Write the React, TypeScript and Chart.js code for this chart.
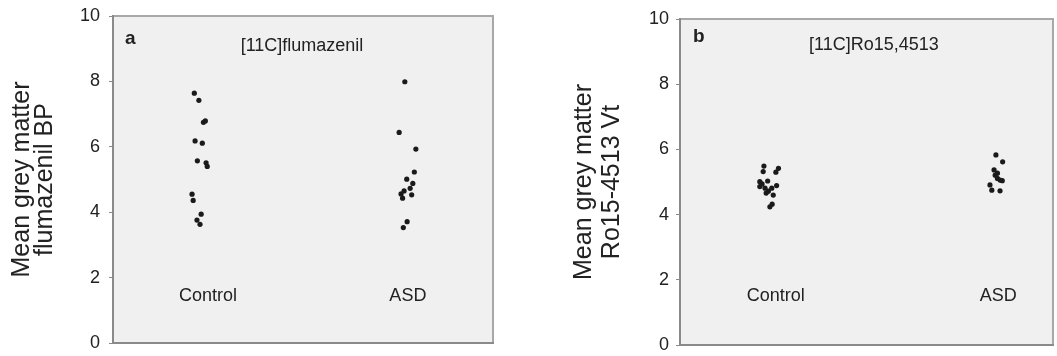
import React, { useEffect, useRef } from "react";
import { Chart, registerables } from "chart.js";

Chart.register(...registerables);

// ---------- data ----------
const categories = ["Control", "ASD"];
const yTickValues = [0, 2, 4, 6, 8, 10];

// Panel a: [11C]flumazenil BP
const flumazenilControl = [7.64, 7.42, 6.79, 6.75, 6.18, 6.11, 5.57, 5.51, 5.4, 4.55, 4.36, 3.94, 3.76, 3.63];
const flumazenilControlJitter = [2.14, 2.26, 2.43, 2.38, 2.16, 2.35, 2.22, 2.45, 2.48, 2.08, 2.11, 2.32, 2.21, 2.29];
const flumazenilASD = [7.99, 6.44, 5.93, 5.23, 5.01, 4.88, 4.73, 4.65, 4.53, 4.56, 4.43, 3.71, 3.53];
const flumazenilASDJitter = [7.68, 7.53, 7.97, 7.93, 7.73, 7.89, 7.82, 7.66, 7.86, 7.58, 7.62, 7.74, 7.64];
const flumazenilCategoryX = [2.5, 7.76];

// Panel b: [11C]Ro15,4513 Vt
const ro15Control = [5.49, 5.32, 5.42, 5.3, 5.01, 5.03, 4.86, 4.89, 4.81, 4.81, 4.72, 4.6, 4.32, 4.24, 4.94, 4.66];
const ro15ControlJitter = [2.25, 2.23, 2.64, 2.57, 2.14, 2.35, 2.14, 2.59, 2.28, 2.46, 2.37, 2.5, 2.47, 2.41, 2.2, 2.31];
const ro15ASD = [5.83, 5.62, 5.37, 5.27, 5.21, 5.11, 5.06, 5.04, 4.91, 4.75, 4.73];
const ro15ASDJitter = [8.47, 8.65, 8.42, 8.51, 8.45, 8.51, 8.58, 8.64, 8.31, 8.36, 8.58];
const ro15CategoryX = [2.57, 8.53];

const FONT = "'Liberation Sans', Arial, sans-serif";

type PanelProps = {
  left: number;
  width: number;
  control: number[];
  controlX: number[];
  asd: number[];
  asdX: number[];
  catX: number[];
  catY: number;
  title: string;
  letter: string;
  yTitle: string[];
  yTitleLineHeight: number;
  yTitlePad: number;
  axisWidth: number;
  padRight: number;
  padTop: number;
  padBottom: number;
  tickPad: number;
  titleDx: number;
  titleDy: number;
  letterDx: number;
  letterDy: number;
};

const framePlugin = {
  id: "frame",
  beforeDraw(chart: any) {
    const { ctx, chartArea: a } = chart;
    ctx.save();
    ctx.fillStyle = "#f0f0f0";
    ctx.fillRect(a.left, a.top, a.right - a.left, a.bottom - a.top);
    ctx.restore();
  },
  afterDraw(chart: any, _args: any, opts: any) {
    const { ctx, chartArea: a, scales } = chart;
    ctx.save();
    ctx.lineWidth = 2;
    ctx.strokeStyle = "#a8a8a8";
    ctx.beginPath();
    ctx.moveTo(a.left, a.top);
    ctx.lineTo(a.right, a.top);
    ctx.lineTo(a.right, a.bottom);
    ctx.stroke();
    ctx.strokeStyle = "#8a8a8a";
    ctx.beginPath();
    ctx.moveTo(a.left, a.top - 1);
    ctx.lineTo(a.left, a.bottom);
    ctx.lineTo(a.right + 1, a.bottom);
    ctx.stroke();

    ctx.fillStyle = "#222";
    ctx.textBaseline = "middle";
    ctx.textAlign = "center";
    ctx.font = `18px ${FONT}`;
    ctx.fillText(opts.title, a.left + opts.titleDx, a.top + opts.titleDy);
    opts.categories.forEach((c: string, i: number) => {
      ctx.fillText(c, scales.x.getPixelForValue(opts.catX[i]), scales.y.getPixelForValue(opts.catY));
    });
    ctx.textAlign = "left";
    ctx.font = `bold 19px ${FONT}`;
    ctx.fillText(opts.letter, a.left + opts.letterDx, a.top + opts.letterDy);
    ctx.restore();
  },
};

function Panel(p: PanelProps) {
  const ref = useRef<HTMLCanvasElement>(null);
  useEffect(() => {
    if (!ref.current) return;
    const pointStyle = { pointRadius: 2.6, pointBackgroundColor: "#1a1a1a", pointBorderWidth: 0, showLine: false };
    const chart = new Chart(ref.current, {
      type: "scatter",
      data: {
        datasets: [
          { label: categories[0], data: p.control.map((v, i) => ({ x: p.controlX[i], y: v })), ...pointStyle },
          { label: categories[1], data: p.asd.map((v, i) => ({ x: p.asdX[i], y: v })), ...pointStyle },
        ],
      },
      options: {
        animation: false,
        responsive: false,
        devicePixelRatio: 1,
        layout: { padding: { left: 0, right: p.padRight, top: p.padTop, bottom: p.padBottom } },
        plugins: {
          legend: { display: false },
          tooltip: { enabled: false },
          frame: {
            title: p.title,
            letter: p.letter,
            categories,
            catX: p.catX,
            catY: p.catY,
            titleDx: p.titleDx,
            titleDy: p.titleDy,
            letterDx: p.letterDx,
            letterDy: p.letterDy,
          },
        } as any,
        scales: {
          x: { type: "linear", min: 0, max: 10, display: false },
          y: {
            type: "linear",
            min: 0,
            max: 10,
            afterBuildTicks: (s: any) => {
              s.ticks = yTickValues.map((v) => ({ value: v }));
            },
            afterFit: (s: any) => {
              s.width = p.axisWidth;
              s.paddingTop = 0;
              s.paddingBottom = 0;
            },
            ticks: { padding: p.tickPad, color: "#222", font: { family: FONT, size: 18 } },
            grid: { drawOnChartArea: false, drawTicks: true, tickLength: 4, color: "#8a8a8a", lineWidth: 1 },
            border: { display: false },
            title: {
              display: true,
              text: p.yTitle,
              color: "#222",
              font: { family: FONT, size: 25, lineHeight: p.yTitleLineHeight },
              padding: { top: p.yTitlePad, bottom: 0 },
            },
          },
        },
      },
      plugins: [framePlugin],
    } as any);
    return () => chart.destroy();
  }, []);
  return (
    <canvas
      ref={ref}
      width={p.width}
      height={356}
      style={{ position: "absolute", left: p.left, top: 0, width: p.width, height: 356 }}
    />
  );
}

export default function App() {
  return (
    <div style={{ position: "fixed", left: 0, top: 0, width: 1057, height: 356, background: "#fff" }}>
      <Panel
        left={0}
        width={528}
        control={flumazenilControl}
        controlX={flumazenilControlJitter}
        asd={flumazenilASD}
        asdX={flumazenilASDJitter}
        catX={flumazenilCategoryX}
        catY={1.45}
        title="[11C]flumazenil"
        letter="a"
        yTitle={["Mean grey matter", "flumazenil BP"]}
        yTitleLineHeight={0.9}
        yTitlePad={11}
        axisWidth={113}
        padRight={35}
        padTop={16}
        padBottom={13}
        tickPad={9}
        titleDx={189}
        titleDy={30}
        letterDx={12}
        letterDy={23}
      />
      <Panel
        left={528}
        width={529}
        control={ro15Control}
        controlX={ro15ControlJitter}
        asd={ro15ASD}
        asdX={ro15ASDJitter}
        catX={ro15CategoryX}
        catY={1.5}
        title="[11C]Ro15,4513"
        letter="b"
        yTitle={["Mean grey matter", "Ro15-4513 Vt"]}
        yTitleLineHeight={1.12}
        yTitlePad={42}
        axisWidth={152}
        padRight={4}
        padTop={19}
        padBottom={11}
        tickPad={7}
        titleDx={194}
        titleDy={26}
        letterDx={13}
        letterDy={18}
      />
    </div>
  );
}
